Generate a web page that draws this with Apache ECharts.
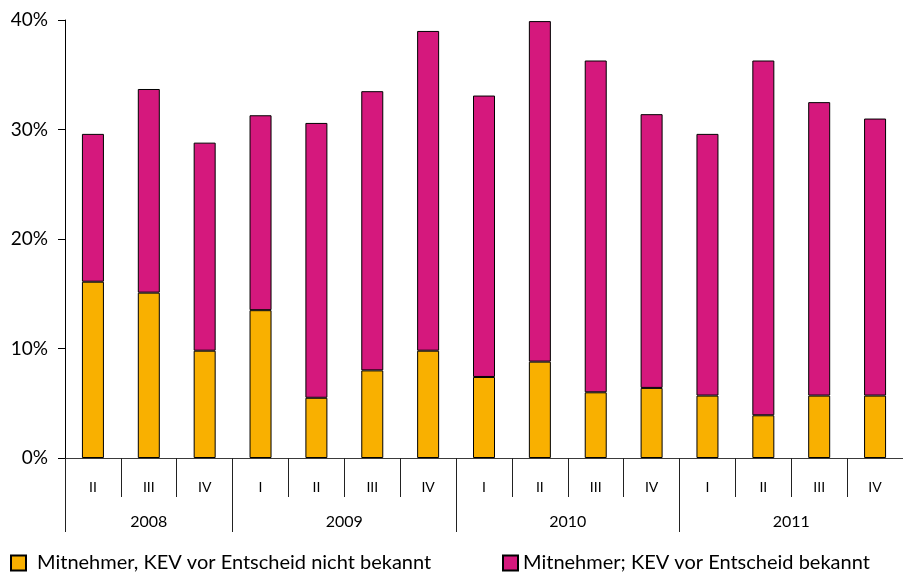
<!DOCTYPE html>
<html>
<head>
<meta charset="utf-8">
<script src="https://cdn.jsdelivr.net/npm/echarts@6/dist/echarts.min.js"></script>
<style>
  html, body { margin: 0; padding: 0; background: #fff; }
  #chart { width: 903px; height: 573px; }
</style>
</head>
<body>
<div id="chart"></div>
<script>
// Quarters (Roman numerals) and the year each belongs to
const quarters = ['II', 'III', 'IV', 'I', 'II', 'III', 'IV', 'I', 'II', 'III', 'IV', 'I', 'II', 'III', 'IV'];
const years = ['2008', '2009', '2010', '2011'];
const quartersPerYear = [3, 4, 4, 4];

// Share in % — lower segment: KEV decision not yet known
const nichtBekannt = [16.1, 15.1, 9.8, 13.5, 5.5, 8.0, 9.8, 7.4, 8.8, 6.0, 6.4, 5.7, 3.9, 5.7, 5.7];
// Share in % — upper segment: KEV decision known
const bekannt = [13.5, 18.6, 19.0, 17.8, 25.1, 25.5, 29.2, 25.7, 31.1, 30.3, 25.0, 23.9, 32.4, 26.8, 25.3];

const yTicks = [0, 10, 20, 30, 40];

const seriesNames = [
  'Mitnehmer, KEV vor Entscheid nicht bekannt',
  'Mitnehmer; KEV vor Entscheid bekannt'
];

// Year axis: half-quarter points (boundaryGap false) so year lines sit on
// quarter boundaries and year labels sit at the middle of each year.
const nQ = quarters.length;
const yearPoints = [];
for (let j = 0; j <= nQ * 2; j++) yearPoints.push('');
const yearTickIdx = [];
const yearLabelIdx = {};
let start = 0;
years.forEach((y, i) => {
  yearTickIdx.push(start * 2);
  const mid = start * 2 + quartersPerYear[i];
  yearPoints[mid] = y;
  yearLabelIdx[mid] = true;
  start += quartersPerYear[i];
});

const FONT = 'Lato';
const chart = echarts.init(document.getElementById('chart'));
chart.setOption({
  animation: false,
  backgroundColor: '#ffffff',
  textStyle: { fontFamily: FONT },
  grid: { left: 65, top: 20, width: 844, height: 438, containLabel: false },
  legend: [
    {
      data: [seriesNames[0]],
      left: 10, top: 553, padding: 0,
      icon: 'rect', itemWidth: 15, itemHeight: 15,
      textStyle: { fontFamily: FONT, fontSize: 20, color: '#000', padding: [0, 0, 0, 6] }
    },
    {
      data: [seriesNames[1]],
      left: 502, top: 553, padding: 0,
      icon: 'rect', itemWidth: 15, itemHeight: 15,
      textStyle: { fontFamily: FONT, fontSize: 20, color: '#000' }
    }
  ],
  xAxis: [
    {
      type: 'category',
      data: quarters,
      position: 'bottom',
      axisLine: { show: true, lineStyle: { color: '#3a3a3a', width: 1 } },
      axisTick: { show: true, interval: 0, length: 39, lineStyle: { color: '#222', width: 1 } },
      axisLabel: { interval: 0, margin: 22, fontSize: 14, color: '#000', fontFamily: FONT }
    },
    {
      type: 'category',
      data: yearPoints,
      boundaryGap: false,
      position: 'bottom',
      axisLine: { show: false },
      axisTick: {
        show: true, length: 74,
        interval: (idx) => yearTickIdx.indexOf(idx) >= 0,
        lineStyle: { color: '#222', width: 1 }
      },
      axisLabel: {
        margin: 56, fontSize: 16, color: '#000', fontFamily: FONT,
        interval: (idx) => !!yearLabelIdx[idx]
      }
    }
  ],
  yAxis: {
    type: 'value',
    min: yTicks[0],
    max: yTicks[yTicks.length - 1],
    interval: 10,
    axisLine: { show: true, lineStyle: { color: '#000', width: 1 } },
    axisTick: { show: true, length: 7, lineStyle: { color: '#000' } },
    splitLine: { show: false },
    axisLabel: { formatter: '{value}%', margin: 17, fontSize: 19, color: '#000', fontFamily: FONT }
  },
  series: [
    {
      name: seriesNames[0],
      type: 'bar',
      stack: 'total',
      barWidth: 22,
      data: nichtBekannt,
      itemStyle: { color: '#F9B000', borderColor: '#000', borderWidth: 1 }
    },
    {
      name: seriesNames[1],
      type: 'bar',
      stack: 'total',
      barWidth: 22,
      data: bekannt,
      itemStyle: { color: '#D5187D', borderColor: '#000', borderWidth: 1 }
    }
  ]
});
</script>
</body>
</html>
